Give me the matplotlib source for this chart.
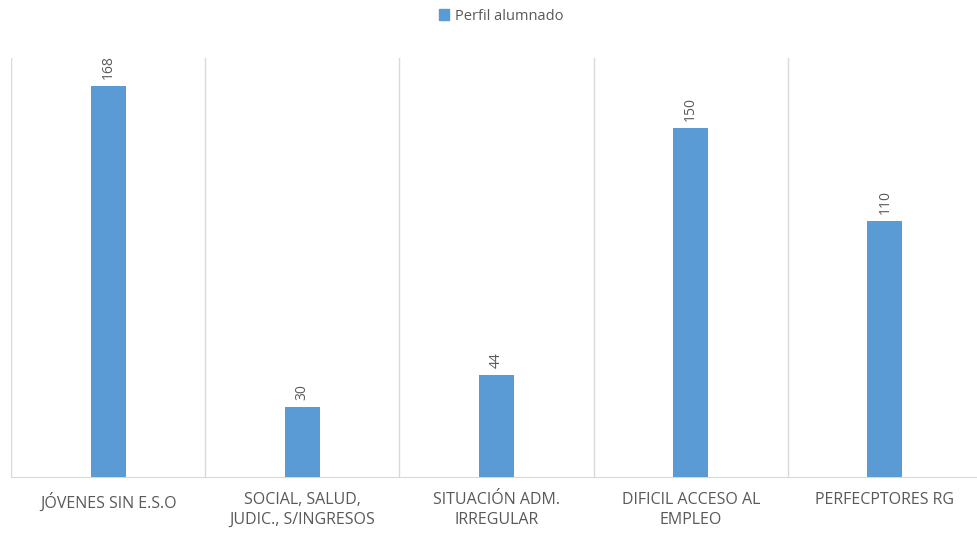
import matplotlib
matplotlib.use("Agg")
import matplotlib.pyplot as plt
from matplotlib.patches import Patch

categories = ["JÓVENES SIN E.S.O", "SOCIAL, SALUD,\nJUDIC., S/INGRESOS",
              "SITUACIÓN ADM.\nIRREGULAR", "DIFICIL ACCESO AL\nEMPLEO", "PERFECPTORES RG"]
values = [168, 30, 44, 150, 110]
series_name = "Perfil alumnado"

bar_color = "#5B9BD5"
text_color = "#595959"
grid_color = "#D9D9D9"

plt.rcParams['font.family'] = ['Open Sans', 'DejaVu Sans']

fig = plt.figure(figsize=(9.77, 5.40), dpi=100)
W, H = 977, 540
left, right, top, bottom = 11, 982, 58, 477
ax = fig.add_axes([left / W, (H - bottom) / H, (right - left) / W, (bottom - top) / H])

x = list(range(len(categories)))
bars = ax.bar(x, values, width=0.18, color=bar_color, zorder=3)
ax.set_xlim(-0.5, len(categories) - 0.5)
ax.set_ylim(0, 180)

for b in [i + 0.5 for i in range(-1, len(categories))]:
    ax.axvline(b, color=grid_color, lw=1, zorder=1)

for rect, v in zip(bars, values):
    ax.annotate(str(v), (rect.get_x() + rect.get_width() / 2, rect.get_height()),
                xytext=(0, 5), textcoords="offset points", rotation=90,
                ha="center", va="bottom", fontsize=10, color=text_color)

for s in ["top", "right", "left"]:
    ax.spines[s].set_visible(False)
ax.spines["bottom"].set_color(grid_color)
ax.set_yticks([])
ax.set_xticks(x)
ax.set_xticklabels(categories, fontsize=11.5, color=text_color, linespacing=1.3)
ax.tick_params(axis="x", length=0, pad=11)

fig.legend(handles=[Patch(color=bar_color, label=series_name)], loc="center",
           bbox_to_anchor=(501 / W, 1 - 16 / H), frameon=False, fontsize=10.5,
           handlelength=0.7, handleheight=0.7, handletextpad=0.4,
           labelcolor=text_color)

fig.savefig("out.png", dpi=100, facecolor="white")
